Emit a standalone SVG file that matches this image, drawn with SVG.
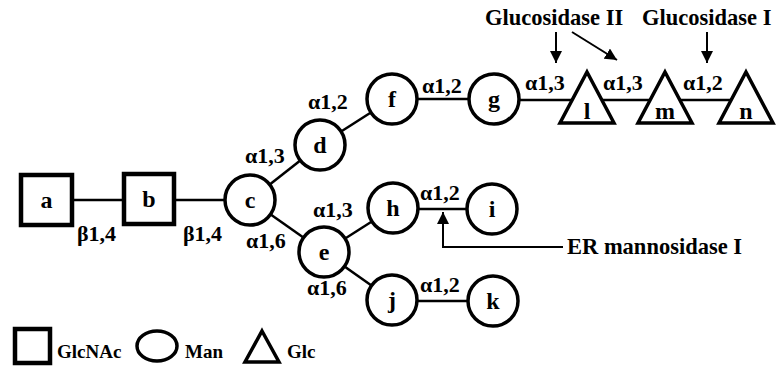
<svg xmlns="http://www.w3.org/2000/svg" width="776" height="374" viewBox="0 0 776 374">
<defs>
<style>
.n{fill:#fff;stroke:#000;stroke-width:3.5}
.sq{fill:#fff;stroke:#000;stroke-width:4.5}
.e{stroke:#000;stroke-width:2.5;fill:none}
.a{stroke:#000;stroke-width:2;fill:none}
.t{font-family:"Liberation Serif","Times New Roman",serif;font-weight:bold;font-size:24px;text-anchor:middle;fill:#000}
.l{font-family:"Liberation Serif","Times New Roman",serif;font-weight:bold;font-size:22px;fill:#000}
.h{font-family:"Liberation Serif","Times New Roman",serif;font-weight:bold;font-size:22.5px;fill:#000}
.g{font-family:"Liberation Serif","Times New Roman",serif;font-weight:bold;font-size:19px;fill:#000}
</style>
<marker id="ah" viewBox="0 0 12 12" refX="12" refY="6" markerWidth="12" markerHeight="12" markerUnits="userSpaceOnUse" orient="auto">
<path d="M0,0 L12,6 L0,12 Z" fill="#000"/>
</marker>
</defs>
<g id="connectors">
<line class="e" x1="46" y1="200" x2="149" y2="200"/>
<line class="e" x1="149" y1="200" x2="250" y2="200"/>
<line class="e" x1="250" y1="200" x2="320" y2="145"/>
<line class="e" x1="320" y1="145" x2="392" y2="99"/>
<line class="e" x1="392" y1="99" x2="494" y2="99"/>
<line class="e" x1="494" y1="100" x2="746" y2="100"/>
<line class="e" x1="250" y1="200" x2="324" y2="252"/>
<line class="e" x1="324" y1="252" x2="393" y2="208"/>
<line class="e" x1="393" y1="209" x2="492" y2="209"/>
<line class="e" x1="324" y1="252" x2="392" y2="300"/>
<line class="e" x1="392" y1="301" x2="493" y2="301"/>
<line class="a" x1="556" y1="32" x2="556" y2="63" marker-end="url(#ah)"/>
<line class="a" x1="572" y1="32" x2="617" y2="60" marker-end="url(#ah)"/>
<line class="a" x1="707" y1="32" x2="707" y2="63" marker-end="url(#ah)"/>
<polyline class="a" points="563,247 443,247 443,212" marker-end="url(#ah)"/>
</g>
<g id="node-a"><rect class="sq" x="21" y="175" width="51" height="50"/><text class="t" x="46.5" y="208">a</text></g>
<g id="node-b"><rect class="sq" x="124" y="174" width="50" height="50"/><text class="t" x="149" y="207">b</text></g>
<g id="node-c"><circle class="n" cx="250" cy="200" r="25"/><text class="t" x="250" y="208">c</text></g>
<g id="node-d"><circle class="n" cx="320" cy="145" r="25"/><text class="t" x="320" y="153">d</text></g>
<g id="node-f"><circle class="n" cx="392" cy="99" r="25"/><text class="t" x="392" y="107">f</text></g>
<g id="node-g"><circle class="n" cx="494" cy="99" r="25"/><text class="t" x="494" y="107">g</text></g>
<g id="node-e"><circle class="n" cx="324" cy="252" r="25"/><text class="t" x="324" y="260">e</text></g>
<g id="node-h"><circle class="n" cx="393" cy="208" r="25"/><text class="t" x="393" y="216">h</text></g>
<g id="node-i"><circle class="n" cx="492" cy="209" r="25"/><text class="t" x="492" y="217">i</text></g>
<g id="node-j"><circle class="n" cx="392" cy="300" r="25"/><text class="t" x="392" y="308">j</text></g>
<g id="node-k"><circle class="n" cx="493" cy="301" r="25"/><text class="t" x="493" y="309">k</text></g>
<g id="node-l"><path class="n" stroke-width="4" d="M587,72 L614,123 L560,123 Z"/><text class="t" x="587" y="119">l</text></g>
<g id="node-m"><path class="n" stroke-width="4" d="M665,72 L692,123 L638,123 Z"/><text class="t" x="665" y="119">m</text></g>
<g id="node-n"><path class="n" stroke-width="4" d="M746,72 L773,123 L719,123 Z"/><text class="t" x="746" y="119">n</text></g>
<g id="labels">
<text class="l" x="77" y="241">β1,4</text>
<text class="l" x="183" y="241">β1,4</text>
<text class="l" x="245" y="163">α1,3</text>
<text class="l" x="246" y="248">α1,6</text>
<text class="l" x="308" y="109">α1,2</text>
<text class="l" x="422" y="93">α1,2</text>
<text class="l" x="525" y="90">α1,3</text>
<text class="l" x="603" y="90">α1,3</text>
<text class="l" x="683" y="90">α1,2</text>
<text class="l" x="313" y="217">α1,3</text>
<text class="l" x="420" y="200">α1,2</text>
<text class="l" x="307" y="295">α1,6</text>
<text class="l" x="420" y="292">α1,2</text>
<text class="h" x="485" y="25">Glucosidase II</text>
<text class="h" x="642" y="25">Glucosidase I</text>
<text class="h" x="567" y="254" font-size="24">ER mannosidase I</text>
</g>
<g id="legend">
<rect class="sq" x="15" y="329" width="35" height="34" stroke-width="4"/>
<text class="g" x="57" y="358">GlcNAc</text>
<ellipse class="n" cx="157" cy="346" rx="20" ry="15"/>
<text class="g" x="185" y="358">Man</text>
<path class="n" stroke-width="4" d="M262,331 L279,362 L245,362 Z"/>
<text class="g" x="287" y="358">Glc</text>
</g>
</svg>
